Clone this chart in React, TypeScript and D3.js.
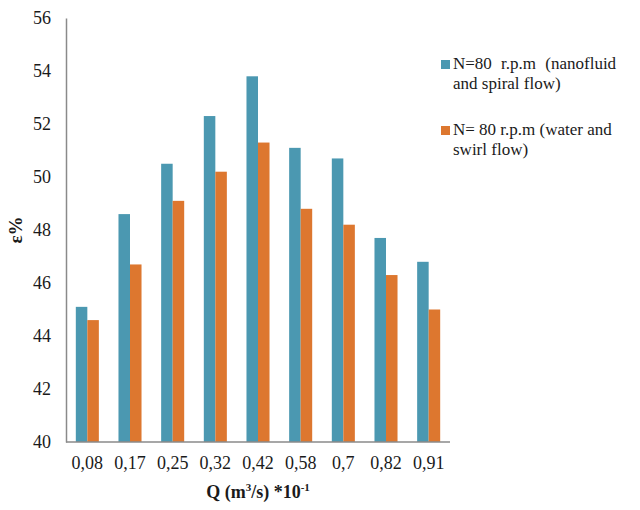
import React, { useEffect, useRef } from 'react';
import * as d3 from 'd3';

const categories = ['0,08', '0,17', '0,25', '0,32', '0,42', '0,58', '0,7', '0,82', '0,91'];
const nanofluid = [45.1, 48.6, 50.5, 52.3, 53.8, 51.1, 50.7, 47.7, 46.8];
const water = [44.6, 46.7, 49.1, 50.2, 51.3, 48.8, 48.2, 46.3, 45.0];
const yTicks = [40, 42, 44, 46, 48, 50, 52, 54, 56];
const seriesNames = [
  ['N=80 r.p.m (nanofluid', 'and spiral flow)'],
  ['N= 80 r.p.m (water and', 'swirl flow)'],
];
const colors = ['#4b98b1', '#dd772f'];

const App: React.FC = () => {
  const svgRef = useRef<SVGSVGElement | null>(null);

  useEffect(() => {
    if (!svgRef.current) return;

    const width = 640;
    const height = 510;
    const margin = { top: 18, right: 190, bottom: 68, left: 66 };
    const font = 'Liberation Serif, Times New Roman, serif';

    const svg = d3.select(svgRef.current);
    svg.selectAll('*').remove();

    const x0 = d3
      .scaleBand<string>()
      .domain(categories)
      .range([margin.left, width - margin.right])
      .paddingInner(0.46)
      .paddingOuter(0.23);

    const x1 = d3.scaleBand<number>().domain([0, 1]).range([0, x0.bandwidth()]);

    const y = d3
      .scaleLinear()
      .domain([40, 56])
      .range([height - margin.bottom, margin.top]);

    // bars
    const groups = svg
      .append('g')
      .selectAll('g')
      .data(categories)
      .enter()
      .append('g')
      .attr('transform', (d) => `translate(${x0(d)},0)`);

    groups
      .selectAll('rect')
      .data((_, i) => [nanofluid[i], water[i]])
      .enter()
      .append('rect')
      .attr('x', (_, j) => x1(j) as number)
      .attr('width', x1.bandwidth())
      .attr('y', (d) => y(d))
      .attr('height', (d) => y(40) - y(d))
      .attr('fill', (_, j) => colors[j]);

    // y axis
    const yAxis = svg
      .append('g')
      .attr('transform', `translate(${margin.left},0)`)
      .call(d3.axisLeft(y).tickValues(yTicks).tickSize(0).tickPadding(15));
    yAxis.attr('font-family', null);
    yAxis.select('.domain').attr('stroke', '#8a8a8a').attr('stroke-width', 1.5);
    yAxis
      .selectAll('text')
      .attr('fill', '#1a1a1a')
      .style('font-family', font)
      .attr('font-size', '18px');

    // x axis
    const xAxis = svg
      .append('g')
      .attr('transform', `translate(0,${height - margin.bottom})`)
      .call(d3.axisBottom(x0).tickSize(0).tickPadding(14).tickSizeOuter(0));
    xAxis.attr('font-family', null);
    xAxis
      .select('.domain')
      .attr('d', `M${margin.left},0H${width - margin.right}`)
      .attr('stroke', '#8a8a8a')
      .attr('stroke-width', 1.5);
    xAxis
      .selectAll('text')
      .attr('fill', '#1a1a1a')
      .style('font-family', font)
      .attr('font-size', '18px');

    // x title
    const xt = svg
      .append('text')
      .attr('x', (margin.left + width - margin.right) / 2)
      .attr('y', 498)
      .attr('text-anchor', 'middle')
      .style('font-family', font)
      .attr('font-weight', 'bold')
      .attr('font-size', '18px')
      .attr('fill', '#1a1a1a');
    xt.append('tspan').text('Q (m');
    xt.append('tspan').attr('font-size', '11px').attr('dy', -7).text('3');
    xt.append('tspan').attr('dy', 7).text('/s) *10');
    xt.append('tspan').attr('font-size', '11px').attr('dy', -7).text('-1');

    // y title
    svg
      .append('text')
      .attr('transform', `translate(22,230) rotate(-90)`)
      .attr('text-anchor', 'middle')
      .style('font-family', font)
      .attr('font-weight', 'bold')
      .attr('font-size', '19px')
      .attr('fill', '#1a1a1a')
      .text('ε%');

    // legend
    const legend = svg
      .append('g')
      .selectAll('g')
      .data(seriesNames)
      .enter()
      .append('g')
      .attr('transform', (_, i) => `translate(441,${60 + i * 66})`);

    legend
      .append('rect')
      .attr('width', 9)
      .attr('height', 9)
      .attr('fill', (_, i) => colors[i]);

    legend
      .append('text')
      .style('font-family', font)
      .attr('font-size', '17px')
      .attr('fill', '#1a1a1a')
      .each(function (d, i) {
        d3.select(this)
          .selectAll('tspan')
          .data(d)
          .enter()
          .append('tspan')
          .attr('x', 12)
          .attr('y', (_, j) => 9 + j * 19.5)
          // first line of the first entry is justified wider in the original
          .attr('word-spacing', (_, j) => (i === 0 && j === 0 ? 5 : 0))
          .text((t) => t);
      });
  }, []);

  return <svg ref={svgRef} width={640} height={510} style={{ position: 'absolute', left: 0, top: 0, background: '#fff' }} />;
};

export default App;
